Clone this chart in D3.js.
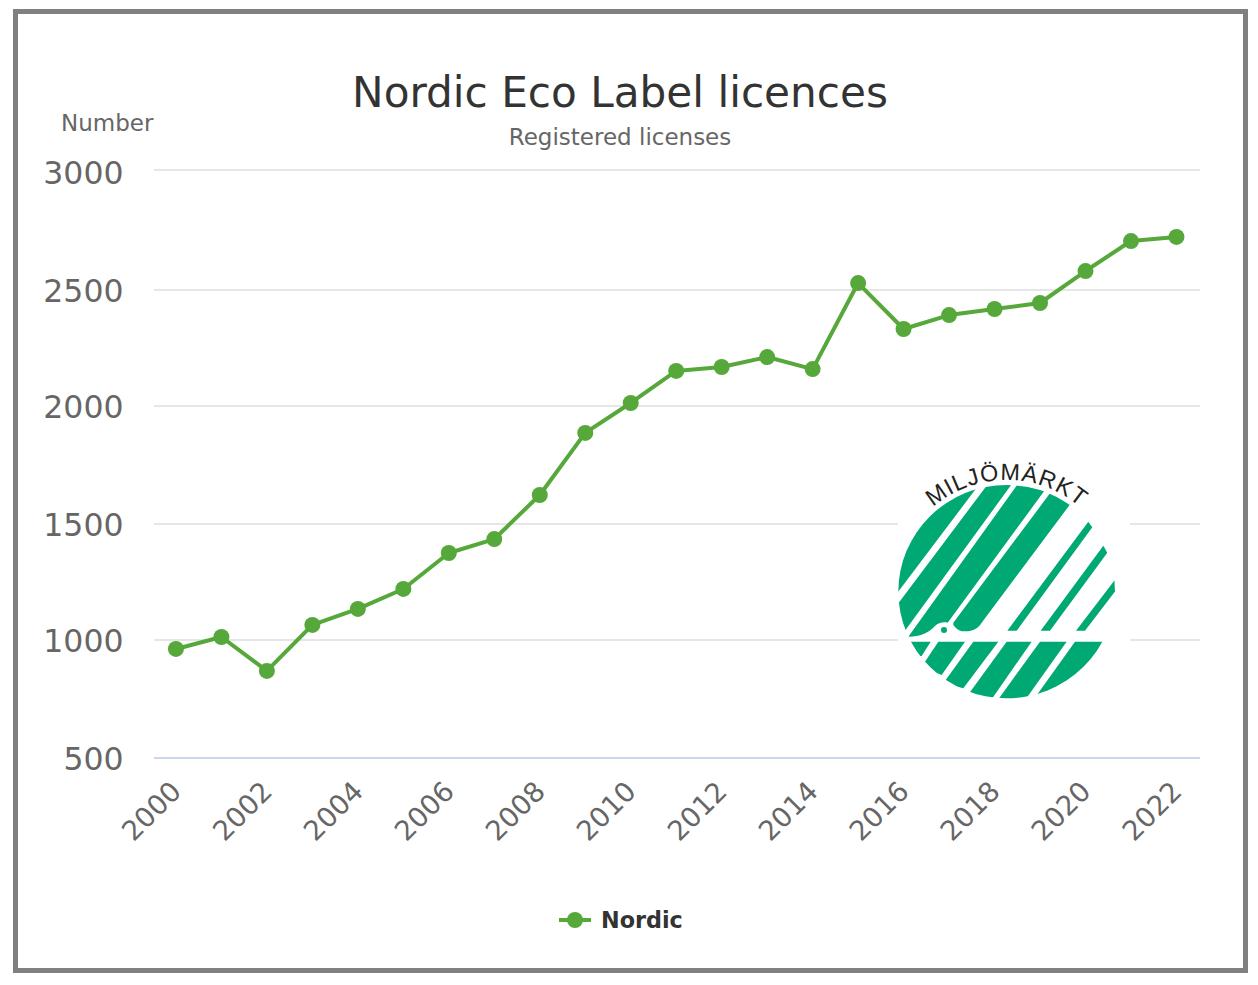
<!DOCTYPE html>
<html>
<head>
<meta charset="utf-8">
<script src="https://cdnjs.cloudflare.com/ajax/libs/d3/7.8.5/d3.min.js"></script>
<style>
  html, body { margin: 0; padding: 0; background: #fff; }
  svg { display: block; }
  text { font-family: "DejaVu Sans", sans-serif; }
</style>
</head>
<body>
<svg id="chart" width="1258" height="985"></svg>
<script>
const years = ["2000","2001","2002","2003","2004","2005","2006","2007","2008","2009","2010","2011","2012","2013","2014","2015","2016","2017","2018","2019","2020","2021","2022"];
const licences = [962,1013,869,1065,1134,1220,1375,1435,1623,1886,2013,2151,2168,2211,2159,2529,2332,2392,2418,2444,2579,2704,2721];
const yTicks = [500,1000,1500,2000,2500,3000];
const xTicks = years.filter((d, i) => i % 2 === 0);
const green = "#55a839";

const svg = d3.select("#chart");
const x = d3.scaleBand().domain(years).range([153.2, 1199.2]);
// the gridlines in the picture are not quite evenly spaced, so the scale has a stop per tick
const y = d3.scaleLinear().domain(yTicks).range([758, 640, 524, 406, 290, 170]);
const cx = (d) => x(d) + x.bandwidth() / 2;

// frame
svg.append("rect").attr("x", 15.5).attr("y", 11.5).attr("width", 1230).attr("height", 959)
  .attr("fill", "#fff").attr("stroke", "#808080").attr("stroke-width", 5);

// grid
svg.append("g").selectAll("line").data(yTicks).enter().append("line")
  .attr("x1", 154).attr("x2", 1200)
  .attr("y1", (d) => y(d)).attr("y2", (d) => y(d))
  .attr("stroke", (d) => d === 500 ? "#ccd6eb" : "#e6e6e6").attr("stroke-width", 2);

// y axis
const yAxis = svg.append("g").attr("transform", "translate(123.5,0)")
  .call(d3.axisLeft(y).tickValues(yTicks).tickSize(0).tickPadding(0).tickFormat(d3.format("d")));
yAxis.select(".domain").remove();
yAxis.selectAll("text").attr("font-size", 31.5).attr("fill", "#666")
  .attr("dy", (d) => d === 3000 ? "0.44em" : "0.38em")
  .style("font-family", '"DejaVu Sans", sans-serif');

// x axis
const xAxis = svg.append("g").attr("transform", "translate(0,758)")
  .call(d3.axisBottom(x).tickValues(xTicks).tickSize(0).tickPadding(0));
xAxis.select(".domain").remove();
xAxis.selectAll("text").attr("font-size", 27.5).attr("fill", "#666").attr("text-anchor", "end")
  .attr("y", 0).attr("dy", 0)
  .attr("transform", "translate(7,35) rotate(-45)")
  .style("font-family", '"DejaVu Sans", sans-serif');

// titles
svg.append("text").attr("x", 620).attr("y", 107).attr("text-anchor", "middle")
  .attr("font-size", 42.2).attr("fill", "#333").text("Nordic Eco Label licences");
svg.append("text").attr("x", 620).attr("y", 145).attr("text-anchor", "middle")
  .attr("font-size", 23).attr("fill", "#666").text("Registered licenses");
svg.append("text").attr("x", 61).attr("y", 131)
  .attr("font-size", 23).attr("fill", "#666").text("Number");

// series
const line = d3.line().x((d, i) => cx(years[i])).y((d) => y(d));
svg.append("path").datum(licences).attr("fill", "none").attr("stroke", green)
  .attr("stroke-width", 4).attr("stroke-linejoin", "round").attr("d", line);
svg.append("g").selectAll("circle").data(licences).enter().append("circle")
  .attr("cx", (d, i) => cx(years[i])).attr("cy", (d) => y(d)).attr("r", 8).attr("fill", green);

// legend
svg.append("line").attr("x1", 559).attr("x2", 591).attr("y1", 920).attr("y2", 920)
  .attr("stroke", green).attr("stroke-width", 4);
svg.append("circle").attr("cx", 575).attr("cy", 920).attr("r", 8).attr("fill", green);
svg.append("text").attr("x", 601).attr("y", 928).attr("font-size", 22.3).attr("font-weight", "bold")
  .attr("fill", "#333").text("Nordic");

// logo, drawn in 3x units of its own box
const logoGreen = "#00a874";
const logo = svg.append("g").attr("transform", "translate(880,440) scale(0.3333)");
logo.append("rect").attr("x", 54).attr("y", 40).attr("width", 696).attr("height", 760).attr("fill", "#fff");
const defs = svg.append("defs");
defs.append("clipPath").attr("id", "disc").append("ellipse")
  .attr("cx", 380).attr("cy", 455).attr("rx", 325).attr("ry", 320);
defs.append("path").attr("id", "arc").attr("d", "M 40 460 A 340 340 0 0 1 720 460");

const logoShapes = [
  "M40 475 L300 130 L0 100 L0 475 Z",
  "M40 510 L320 137 L397 130 L75 572 L40 600 Z",
  "M85 590 C120 590 145 580 165 558 C175 548 190 545 203 548 L495 150 L415 130 L85 590 Z",
  "M220 548 L510 160 L580 180 L305 548 C290 572 270 574 250 574 C238 574 228 565 220 555 Z",
  "M625 245 L637 262 L410 572 L382 572 Z",
  "M670 317 L682 338 L510 572 L482 572 Z",
  "M720 400 L720 435 L615 572 L588 572 Z",
  "M80 605 L152 605 L125 648 L80 660 Z",
  "M175 605 L255 605 L185 705 L125 680 Z",
  "M280 605 L355 605 L250 745 L190 730 Z",
  "M380 605 L455 605 L330 785 L260 770 Z",
  "M480 605 L560 605 L432 785 L350 785 Z",
  "M585 605 L690 605 L600 780 L460 780 Z"
];
logo.append("g").attr("clip-path", "url(#disc)").selectAll("path").data(logoShapes).enter().append("path")
  .attr("d", (d) => d).attr("fill", logoGreen);
logo.append("circle").attr("cx", 192).attr("cy", 570).attr("r", 9).attr("fill", logoGreen);
logo.append("text").attr("font-size", 70).attr("letter-spacing", 3).attr("fill", "#222")
  .style("font-family", '"Liberation Sans", sans-serif')
  .append("textPath").attr("href", "#arc").attr("startOffset", "50%").attr("text-anchor", "middle")
  .text("MILJÖMÄRKT");
</script>
</body>
</html>
